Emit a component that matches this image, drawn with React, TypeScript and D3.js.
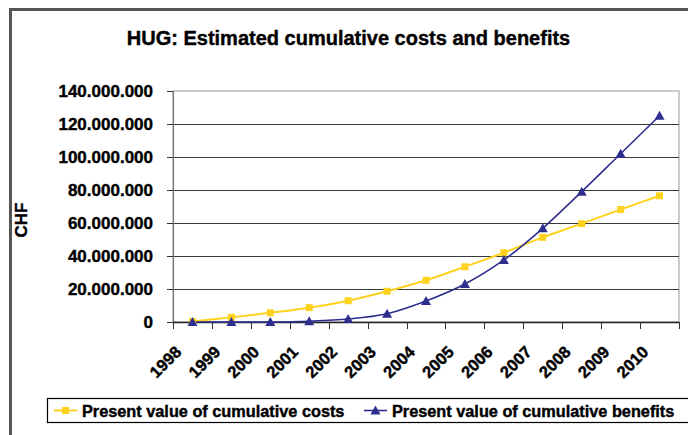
import React from "react";
import * as d3 from "d3";

const years = ["1998","1999","2000","2001","2002","2003","2004","2005","2006","2007","2008","2009","2010"];
const costs = [0.3, 2.8, 5.6, 8.7, 12.9, 18.6, 25.3, 33.5, 42.0, 51.3, 59.6, 68.2, 76.5];
const benefits = [0, 0, 0, 0.5, 1.8, 5.0, 12.7, 23.0, 37.6, 56.8, 79.0, 102.0, 125.0];
const yTicks = [0, 20, 40, 60, 80, 100, 120, 140];
const title = "HUG: Estimated cumulative costs and benefits";
const yLabel = "CHF";
const costLabel = "Present value of cumulative costs";
const benefitLabel = "Present value of cumulative benefits";

const YELLOW = "#FFD21F";
const BLUE = "#2E2E8F";
const FONT = "Liberation Sans, Arial, sans-serif";

function fmt(v: number) {
  if (v === 0) return "0";
  return d3.format(",")(v * 1e6).replace(/,/g, ".");
}

function tri(cx: number, cy: number, s = 5) {
  return `M${cx},${cy - s} L${cx + s},${cy + s * 0.8} L${cx - s},${cy + s * 0.8} Z`;
}

const heavy = { stroke: "#000", strokeWidth: 0.4 };

export default function App() {
  const W = 688, H = 435;
  const left = 173, right = 679, top = 91, bottom = 322;
  const x = d3.scaleBand().domain(years).range([left, right]).padding(0);
  const y = d3.scaleLinear().domain([0, 140]).range([bottom, top]);
  const cx = (yr: string) => (x(yr) as number) + x.bandwidth() / 2;

  const line = d3.line<number>()
    .x((_, i) => cx(years[i]))
    .y((d) => y(d))
    .curve(d3.curveCatmullRom.alpha(0.5));

  return (
    <svg width={W} height={H} style={{ position: "fixed", left: 0, top: 0, background: "#fff" }} fontFamily={FONT}>
      <rect x={0} y={0} width={W} height={H} fill="#fff" />
      {/* outer frame */}
      <rect x={10.5} y={9.5} width={700} height={440} fill="none" stroke="#555" strokeWidth={3} />
      {/* title */}
      <text x={348.5} y={45} textAnchor="middle" fontSize={20} fontWeight="bold" fill="#000" {...heavy}>{title}</text>
      {/* y label */}
      <text transform={`translate(27,220) rotate(-90)`} textAnchor="middle" fontSize={17} fontWeight="bold" fill="#000" {...heavy}>{yLabel}</text>

      {/* plot border */}
      <rect x={left} y={top} width={right - left} height={bottom - top} fill="#fff" stroke="#999" strokeWidth={1} />
      {/* gridlines */}
      {yTicks.filter((t) => t > 0 && t < 140).map((t) => (
        <line key={t} x1={left} x2={right} y1={Math.round(y(t)) + 0.5} y2={Math.round(y(t)) + 0.5} stroke="#3a3a3a" strokeWidth={1.2} />
      ))}
      {/* y axis */}
      <line x1={left + 0.5} x2={left + 0.5} y1={top} y2={bottom} stroke="#777" strokeWidth={1.2} />
      {yTicks.map((t) => (
        <g key={t}>
          <line x1={left - 6} x2={left} y1={Math.round(y(t)) + 0.5} y2={Math.round(y(t)) + 0.5} stroke="#333" />
          <text x={153} y={y(t) + 6} textAnchor="end" fontSize={17} fontWeight="bold" fill="#000" {...heavy}>{fmt(t)}</text>
        </g>
      ))}
      {/* x axis */}
      <line x1={left} x2={right} y1={bottom + 0.5} y2={bottom + 0.5} stroke="#222" strokeWidth={1.3} />
      {[...years.map((yr) => x(yr) as number), right].map((px, i) => (
        <line key={i} x1={Math.round(px) + 0.5} x2={Math.round(px) + 0.5} y1={bottom} y2={bottom + 7} stroke="#333" />
      ))}
      {years.map((yr) => (
        <text key={yr} transform={`translate(${cx(yr) - 10},353) rotate(-45)`} textAnchor="end" fontSize={16.5} fontWeight="bold" fill="#000" {...heavy}>{yr}</text>
      ))}

      {/* series */}
      <path d={line(costs) || ""} fill="none" stroke={YELLOW} strokeWidth={2} />
      <path d={line(benefits) || ""} fill="none" stroke={BLUE} strokeWidth={1.6} />
      {costs.map((v, i) => (
        <rect key={i} x={cx(years[i]) - 3.5} y={y(v) - 3.5} width={7} height={7} fill={YELLOW} />
      ))}
      {benefits.map((v, i) => (
        <path key={i} d={tri(cx(years[i]), y(v))} fill={BLUE} />
      ))}

      {/* legend */}
      <rect x={47.5} y={398.5} width={660} height={24} fill="#fff" stroke="#000" strokeWidth={1.2} />
      <line x1={54} x2={77} y1={410.5} y2={410.5} stroke={YELLOW} strokeWidth={2} />
      <rect x={62} y={407} width={7} height={7} fill={YELLOW} />
      <text x={82} y={416.5} fontSize={16.3} fontWeight="bold" fill="#000" {...heavy}>{costLabel}</text>
      <line x1={364} x2={387} y1={410.5} y2={410.5} stroke={BLUE} strokeWidth={1.6} />
      <path d={tri(375.5, 410.5)} fill={BLUE} />
      <text x={392} y={416.5} fontSize={16.3} fontWeight="bold" fill="#000" {...heavy}>{benefitLabel}</text>
    </svg>
  );
}
